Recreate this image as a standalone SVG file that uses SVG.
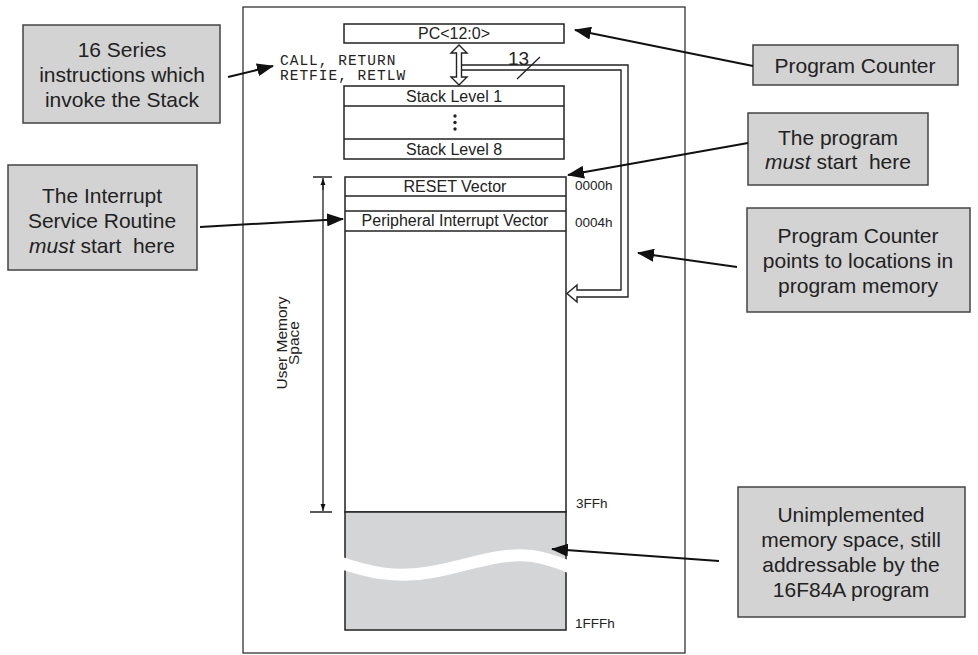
<svg xmlns="http://www.w3.org/2000/svg" width="978" height="655" viewBox="0 0 978 655">
<style>
.t{font-family:"Liberation Sans",Arial,sans-serif;fill:#222}
.c{font-size:21px;text-anchor:middle}
.m{font-size:16px;text-anchor:middle}
.a{font-size:13.5px}
.mono{font-family:"Liberation Mono","Courier New",monospace;font-size:14.5px;letter-spacing:1px;fill:#222}
.box{fill:#d3d3d3;stroke:#444;stroke-width:1.5}
.cell{fill:#fff;stroke:#222;stroke-width:1.5}
.ln{stroke:#222;stroke-width:1.5;fill:none}
.arr{stroke:#111;stroke-width:2;fill:none;marker-end:url(#ah)}
</style>
<defs>
<marker id="ah" markerUnits="userSpaceOnUse" markerWidth="17" markerHeight="13" refX="16" refY="6.5" orient="auto">
<path d="M0,0 L17,6.5 L0,13 z" fill="#111"/>
</marker>
<marker id="sh" markerUnits="userSpaceOnUse" markerWidth="7" markerHeight="10" refX="10" refY="3.5" orient="auto" viewBox="0 0 10 7">
<path d="M0,0 L10,3.5 L0,7 z" fill="#111"/>
</marker>
</defs>

<rect x="243" y="7" width="442" height="646" fill="none" stroke="#222" stroke-width="1.2"/>

<g id="pc">
<rect class="cell" x="344" y="24" width="220" height="19"/>
<text class="t m" x="454" y="39">PC&lt;12:0&gt;</text>
</g>

<g id="stack">
<rect class="cell" x="344" y="86" width="220" height="73"/>
<line class="ln" x1="344" y1="106" x2="564" y2="106"/>
<line class="ln" x1="344" y1="139" x2="564" y2="139"/>
<text class="t m" x="454" y="102">Stack Level 1</text>
<circle cx="455" cy="116" r="1.7" fill="#222"/>
<circle cx="455" cy="122.5" r="1.7" fill="#222"/>
<circle cx="455" cy="129" r="1.7" fill="#222"/>
<text class="t m" x="454" y="155">Stack Level 8</text>
</g>

<g id="instr">
<text class="mono" x="280" y="65">CALL, RETURN</text>
<text class="mono" x="280" y="80">RETFIE, RETLW</text>
</g>

<g id="memory">
<rect class="cell" x="345" y="177" width="221" height="335"/>
<line class="ln" x1="345" y1="196" x2="566" y2="196"/>
<line class="ln" x1="345" y1="211" x2="566" y2="211"/>
<line class="ln" x1="345" y1="231" x2="566" y2="231"/>
<text class="t m" x="455" y="192">RESET Vector</text>
<text class="t m" x="455" y="226">Peripheral Interrupt Vector</text>
<rect x="345" y="512" width="221" height="118" fill="#d4d5d7" stroke="#222" stroke-width="1.5"/>
<path d="M338,562 C368,572 395,579 432,572 C470,565 500,552 532,556 C552,559 562,564 574,569" fill="none" stroke="#fff" stroke-width="12"/>
<text class="t a" x="575" y="190">0000h</text>
<text class="t a" x="575" y="227">0004h</text>
<text class="t a" x="576" y="508">3FFh</text>
<text class="t a" x="575" y="628">1FFFh</text>
</g>

<g id="usermem">
<line x1="313" y1="177" x2="332" y2="177" stroke="#222" stroke-width="1.5"/>
<line x1="310" y1="512" x2="332" y2="512" stroke="#222" stroke-width="1.5"/>
<line x1="323" y1="190" x2="323" y2="178" stroke="#222" stroke-width="1.3" marker-end="url(#sh)"/>
<line x1="323" y1="185" x2="323" y2="511" stroke="#222" stroke-width="1.3" marker-end="url(#sh)"/>
<text class="t" font-size="15.5" text-anchor="middle" transform="translate(287,343) rotate(-90)">User Memory</text>
<text class="t" font-size="15.5" text-anchor="middle" transform="translate(299,343) rotate(-90)">Space</text>
</g>

<g id="bus">
<path d="M461,65 L628,65 L628,297 L577,297 L577,302 L567,293.5 L577,285 L577,290 L621,290 L621,70 L461,70" fill="#fff" stroke="#222" stroke-width="1.4"/>
<path d="M459,45 L467,53 L461.5,53 L461.5,77 L467,77 L459,85 L451,77 L456.5,77 L456.5,53 L451,53 Z" fill="#fff" stroke="#222" stroke-width="1.4"/>
<line x1="517" y1="79" x2="540" y2="57" stroke="#222" stroke-width="1.3"/>
<text class="t" font-size="19" x="508" y="65">13</text>
</g>

<g id="callout-instr">
<rect class="box" x="23" y="25" width="197" height="98"/>
<text class="t c" x="122" y="57">16 Series</text>
<text class="t c" x="122" y="82">instructions which</text>
<text class="t c" x="122" y="107">invoke the Stack</text>
</g>

<g id="callout-isr">
<rect class="box" x="8" y="165" width="189" height="105"/>
<text class="t c" x="102" y="203">The Interrupt</text>
<text class="t c" x="102" y="228">Service Routine</text>
<text class="t c" x="102" y="253" style="white-space:pre"><tspan font-style="italic">must</tspan> start  here</text>
</g>

<g id="callout-pc">
<rect class="box" x="753" y="45" width="205" height="40"/>
<text class="t c" x="855" y="73">Program Counter</text>
</g>

<g id="callout-start">
<rect class="box" x="748" y="113" width="180" height="72"/>
<text class="t c" x="838" y="145">The program</text>
<text class="t c" x="838" y="169" style="white-space:pre"><tspan font-style="italic">must</tspan> start  here</text>
</g>

<g id="callout-points">
<rect class="box" x="747" y="208" width="223" height="104"/>
<text class="t c" x="858" y="243">Program Counter</text>
<text class="t c" x="858" y="268">points to locations in</text>
<text class="t c" x="858" y="293">program memory</text>
</g>

<g id="callout-unimpl">
<rect class="box" x="738" y="487" width="227" height="130"/>
<text class="t c" x="851" y="522">Unimplemented</text>
<text class="t c" x="851" y="547">memory space, still</text>
<text class="t c" x="851" y="572">addressable by the</text>
<text class="t c" x="851" y="597">16F84A program</text>
</g>

<g id="connectors">
<line class="arr" x1="228" y1="77" x2="273" y2="66"/>
<line class="arr" x1="200" y1="227" x2="343" y2="219"/>
<line class="arr" x1="753" y1="66" x2="575" y2="30"/>
<line class="arr" x1="748" y1="143" x2="568" y2="175"/>
<line class="arr" x1="737" y1="267" x2="638" y2="253"/>
<line class="arr" x1="719" y1="561" x2="552" y2="549"/>
</g>
</svg>
